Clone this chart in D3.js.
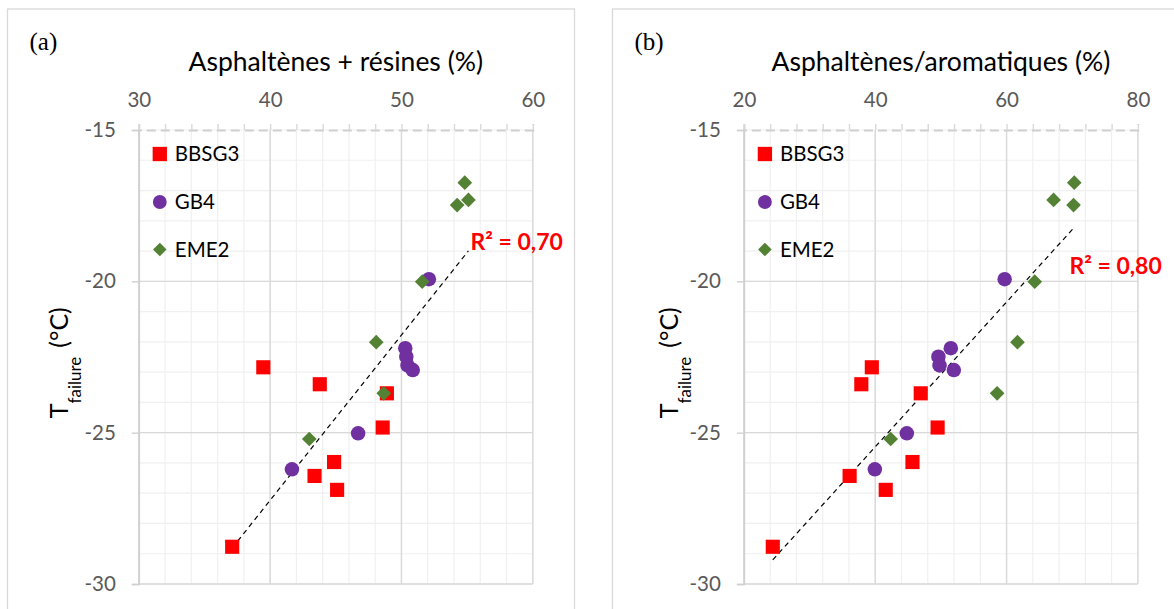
<!DOCTYPE html>
<html>
<head>
<meta charset="utf-8">
<script src="https://cdn.jsdelivr.net/npm/d3@7"></script>
<style>
  body { margin: 0; background: #fff; }
  svg { display: block; font-family: Lato, "Open Sans", sans-serif; }
</style>
</head>
<body>
<svg id="chart" width="1174" height="609"></svg>
<script>
"use strict";

var seriesNames = ["BBSG3", "GB4", "EME2"];
var seriesColors = ["#ff0000", "#7030a0", "#548235"];

// T failure (°C) - same samples in both panels
var tBBSG3 = [-28.77, -22.84, -23.40, -23.70, -24.83, -25.97, -26.43, -26.89];
var tGB4 = [-19.93, -22.21, -22.49, -22.78, -22.93, -25.02, -26.21];
var tEME2 = [-16.74, -17.31, -17.48, -20.01, -22.01, -23.70, -25.21];

// (a) Asphaltènes + résines (%)
var resBBSG3 = [37.11, 39.48, 43.78, 48.89, 48.57, 44.87, 43.38, 45.10];
var resGB4 = [52.09, 50.29, 50.37, 50.46, 50.86, 46.70, 41.66];
var resEME2 = [54.82, 55.10, 54.24, 51.58, 48.08, 48.65, 42.98];

// (b) Asphaltènes/aromatiques (%)
var aroBBSG3 = [24.40, 39.48, 37.88, 46.93, 49.50, 45.67, 36.10, 41.60];
var aroGB4 = [59.71, 51.51, 49.62, 49.79, 51.97, 44.81, 39.94];
var aroEME2 = [70.31, 67.16, 70.20, 64.29, 61.66, 58.56, 42.35];

var resTicks = [30, 40, 50, 60];
var aroTicks = [20, 40, 60, 80];
var tTicks = [-15, -20, -25, -30];
var r2Labels = ["R² = 0,70", "R² = 0,80"];

(function () {

    var svg = d3.select("#chart");
    var plotTop = 130, plotBottom = 584;
    var yDomain = [tTicks[tTicks.length - 1], tTicks[0]];

    var panels = [
        { tag: "(a)", title: "Asphaltènes + résines (%)", frameX: 7.5, frameW: 567,
          left: 138.8, right: 532.8, xTicks: resTicks, minorStep: 2,
          xs: [resBBSG3, resGB4, resEME2], r2: r2Labels[0], r2x: 470.5, r2y: 241.7,
          yTitleX: 68 },
        { tag: "(b)", title: "Asphaltènes/aromatiques (%)", frameX: 612.5, frameW: 600,
          left: 743.9, right: 1137.9, xTicks: aroTicks, minorStep: 4,
          xs: [aroBBSG3, aroGB4, aroEME2], r2: r2Labels[1], r2x: 1069.4, r2y: 266,
          yTitleX: 678 }
    ];
    var ys = [tBBSG3, tGB4, tEME2];

    panels.forEach(drawPanel);

    function symbolPath(i, big) {
        var types = [d3.symbolSquare, d3.symbolCircle, d3.symbolSquare];
        var sizes = big ? [200, 165, 108] : [205, 150, 92];
        return d3.symbol().type(types[i]).size(sizes[i])();
    }

    function drawPanel(p) {
        var g = svg.append("g");

        g.append("rect")
            .attr("x", p.frameX).attr("y", 9)
            .attr("width", p.frameW).attr("height", 640)
            .attr("fill", "#fff")
            .attr("stroke", "#d9d9d9")
            .attr("stroke-width", 1.3);

        var xDomain = [p.xTicks[0], p.xTicks[p.xTicks.length - 1]];
        var xScale = d3.scaleLinear().domain(xDomain).range([p.left, p.right]);
        var yScale = d3.scaleLinear().domain(yDomain).range([plotBottom, plotTop]);

        var xMinor = d3.range(xDomain[0], xDomain[1] + 0.001, p.minorStep);
        var yMinor = d3.range(yDomain[0], yDomain[1] + 0.001, 1);

        // minor grid
        g.append("g").selectAll("line").data(xMinor).enter().append("line")
            .attr("x1", d => xScale(d)).attr("x2", d => xScale(d))
            .attr("y1", plotTop).attr("y2", plotBottom)
            .attr("stroke", "#f0f0f0").attr("stroke-width", 1.2);
        g.append("g").selectAll("line").data(yMinor).enter().append("line")
            .attr("x1", p.left).attr("x2", p.right)
            .attr("y1", d => yScale(d)).attr("y2", d => yScale(d))
            .attr("stroke", "#f0f0f0").attr("stroke-width", 1.2);

        // major grid
        g.append("g").selectAll("line").data(p.xTicks).enter().append("line")
            .attr("x1", d => xScale(d)).attr("x2", d => xScale(d))
            .attr("y1", plotTop).attr("y2", plotBottom)
            .attr("stroke", "#d9d9d9").attr("stroke-width", 1.4);
        g.append("g").selectAll("line").data(tTicks.slice(1)).enter().append("line")
            .attr("x1", p.left).attr("x2", p.right)
            .attr("y1", d => yScale(d)).attr("y2", d => yScale(d))
            .attr("stroke", "#d9d9d9").attr("stroke-width", 1.4);

        // x axis on top, dashed
        var xAxis = g.append("g")
            .attr("transform", "translate(0," + plotTop + ")")
            .call(d3.axisTop(xScale)
                .tickValues(xMinor)
                .tickSize(6)
                .tickPadding(17)
                .tickFormat(d => p.xTicks.indexOf(d) >= 0 ? String(d) : ""));
        xAxis.select(".domain")
            .attr("stroke", "#cfcfcf").attr("stroke-width", 2)
            .attr("stroke-dasharray", "9,5");
        xAxis.selectAll(".tick line").attr("stroke", "#d9d9d9").attr("stroke-width", 1.4);
        xAxis.selectAll("text")
            .attr("fill", "#595959").style("font-size", "20.5px")
            .style("font-family", "Lato, sans-serif");

        var yAxis = g.append("g")
            .attr("transform", "translate(" + p.left + ",0)")
            .call(d3.axisLeft(yScale).tickValues(tTicks).tickSize(7).tickPadding(16)
                .tickFormat(d => String(d)));
        yAxis.select(".domain").attr("stroke", "#d0d0d0").attr("stroke-width", 1.6);
        yAxis.selectAll(".tick line").attr("stroke", "#d0d0d0").attr("stroke-width", 1.4);
        yAxis.selectAll("text")
            .attr("fill", "#595959").style("font-size", "20.5px")
            .style("font-family", "Lato, sans-serif");

        // trend line through all points
        var pts = [];
        p.xs.forEach(function (arr, i) {
            arr.forEach(function (v, j) { pts.push([v, ys[i][j]]); });
        });
        var mx = d3.mean(pts, d => d[0]), my = d3.mean(pts, d => d[1]);
        var sxy = d3.sum(pts, d => (d[0] - mx) * (d[1] - my));
        var sxx = d3.sum(pts, d => (d[0] - mx) * (d[0] - mx));
        var slope = sxy / sxx, icpt = my - slope * mx;
        var ext = d3.extent(pts, d => d[0]);
        g.append("line")
            .attr("x1", xScale(ext[0])).attr("y1", yScale(icpt + slope * ext[0]))
            .attr("x2", xScale(ext[1])).attr("y2", yScale(icpt + slope * ext[1]))
            .attr("stroke", "#000").attr("stroke-width", 1.2)
            .attr("stroke-dasharray", "5,4");

        // markers
        p.xs.forEach(function (arr, i) {
            g.append("g").selectAll("path").data(arr).enter().append("path")
                .attr("d", symbolPath(i, true))
                .attr("transform", function (d, j) {
                    return "translate(" + xScale(d) + "," + yScale(ys[i][j]) + ")" +
                        (i === 2 ? " rotate(45)" : "");
                })
                .attr("fill", seriesColors[i]);
        });

        // legend
        var legendY = [154, 202, 249.5];
        seriesNames.forEach(function (name, i) {
            g.append("path")
                .attr("d", symbolPath(i, false))
                .attr("transform", "translate(" + (p.left + 21) + "," + legendY[i] + ")" +
                    (i === 2 ? " rotate(45)" : ""))
                .attr("fill", seriesColors[i]);
            g.append("text")
                .attr("x", p.left + 36).attr("y", legendY[i])
                .attr("dy", "0.36em")
                .style("font-size", "20.5px")
                .text(name);
        });

        g.append("text")
            .attr("x", p.r2x).attr("y", p.r2y).attr("dy", "0.36em")
            .attr("fill", "#ff0000")
            .style("font-size", "23px").style("font-weight", "bold")
            .text(p.r2);

        // titles
        g.append("text")
            .attr("x", (p.left + p.right) / 2).attr("y", 71)
            .attr("text-anchor", "middle")
            .style("font-size", "26.5px")
            .text(p.title);

        g.append("text")
            .attr("x", p.frameX + 22).attr("y", 50)
            .style("font-family", "'Liberation Serif', 'Times New Roman', serif")
            .style("font-size", "25px")
            .text(p.tag);

        var yt = g.append("text")
            .attr("transform", "translate(" + p.yTitleX + ",362.7) rotate(-90)")
            .attr("text-anchor", "middle")
            .style("font-size", "25px");
        yt.append("tspan").text("T");
        yt.append("tspan").attr("dy", 13).style("font-size", "17px").text("failure");
        yt.append("tspan").attr("dy", -13).attr("dx", 9).text("(°C)");
    }

})();
</script>
</body>
</html>
